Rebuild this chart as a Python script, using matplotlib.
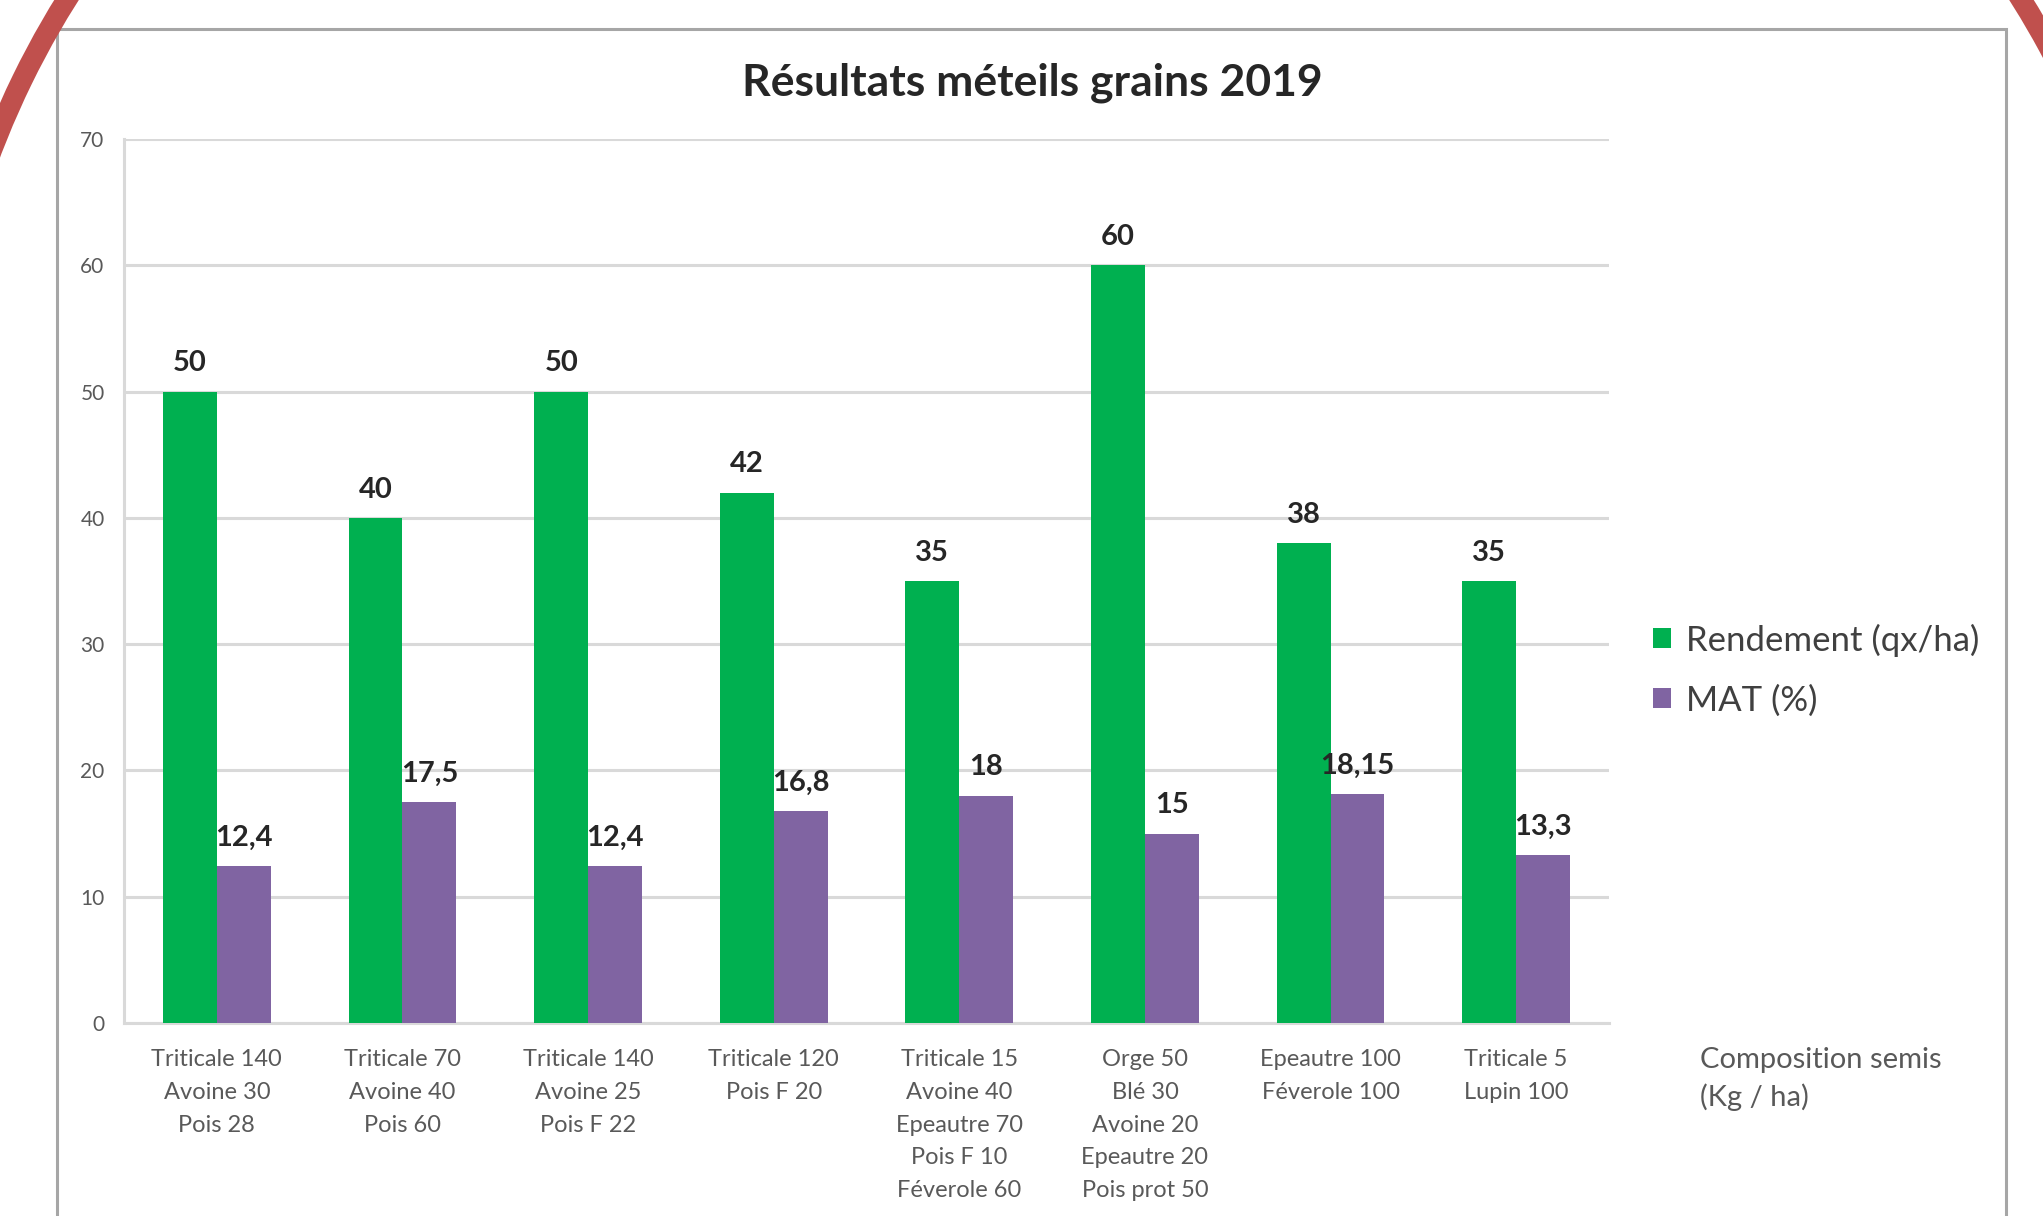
import matplotlib
matplotlib.use('Agg')
import matplotlib.pyplot as plt
from matplotlib.patches import Rectangle, Arc
import numpy as np

# Data
categories = [
    "Triticale 140\nAvoine 30\nPois 28",
    "Triticale 70\nAvoine 40\nPois 60",
    "Triticale 140\nAvoine 25\nPois F 22",
    "Triticale 120\nPois F 20",
    "Triticale 15\nAvoine 40\nEpeautre 70\nPois F 10\nFéverole 60",
    "Orge 50\nBlé 30\nAvoine 20\nEpeautre 20\nPois prot 50",
    "Epeautre 100\nFéverole 100",
    "Triticale 5\nLupin 100",
]
rendement = [50, 40, 50, 42, 35, 60, 38, 35]
mat = [12.4, 17.5, 12.4, 16.8, 18, 15, 18.15, 13.3]
rendement_labels = ["50", "40", "50", "42", "35", "60", "38", "35"]
mat_labels = ["12,4", "17,5", "12,4", "16,8", "18", "15", "18,15", "13,3"]

GREEN = '#00B050'
PURPLE = '#8064A2'
GRID = '#d9d9d9'
TXT = '#595959'

plt.rcParams['font.family'] = ['Lato', 'DejaVu Sans']

W, H = 2043, 1216
fig = plt.figure(figsize=(W / 100, H / 100), dpi=100)

# Background decoration: chart frame and red corner arcs (pixel coords)
deco = fig.add_axes([0, 0, 1, 1], zorder=-5)
deco.set_xlim(0, W)
deco.set_ylim(H, 0)
deco.axis('off')
deco.add_patch(Rectangle((57, 29), 2006 - 57, 1300, fill=False,
                         edgecolor='#a6a6a6', lw=2.2))
deco.add_patch(Arc((806, 462), 1744, 1744, theta1=190, theta2=222,
                   edgecolor='#c0504d', lw=15))
deco.add_patch(Arc((1282, 462), 1744, 1744, theta1=318, theta2=345,
                   edgecolor='#c0504d', lw=15))

ax = fig.add_axes([124 / W, 1 - 1023 / H, (1609 - 124) / W, (1023 - 139) / H])
x = np.arange(len(categories))
bw = 0.29
b1 = ax.bar(x - bw / 2, rendement, bw, color=GREEN, label='Rendement (qx/ha)',
            zorder=3)
b2 = ax.bar(x + bw / 2, mat, bw, color=PURPLE, label='MAT (%)', zorder=3)

for bars, labs in ((b1, rendement_labels), (b2, mat_labels)):
    for rect, lab in zip(bars, labs):
        ax.annotate(lab, (rect.get_x() + rect.get_width() / 2, rect.get_height()),
                    xytext=(0, 11), textcoords='offset points', ha='center',
                    va='bottom', fontsize=21, fontweight='bold', color='#262626')

ax.set_xlim(-0.5, len(categories) - 0.5)
ax.set_ylim(0, 70)
ax.set_yticks(range(0, 71, 10))
ax.yaxis.grid(True, color=GRID, lw=2.2, zorder=0)
ax.set_axisbelow(True)
for s in ('top', 'right'):
    ax.spines[s].set_visible(False)
for s in ('left', 'bottom'):
    ax.spines[s].set_color(GRID)
    ax.spines[s].set_linewidth(2.2)

# category labels (drawn as text so the line spacing can be set)
ax.set_xticks(x)
ax.set_xticklabels([])
for xi, cat in zip(x, categories):
    ax.annotate(cat, (xi, 0), xycoords=('data', 'axes fraction'),
                xytext=(0, -19), textcoords='offset points', ha='center',
                va='top', fontsize=17, color=TXT, linespacing=1.68)
ax.tick_params(axis='x', length=0)
ax.tick_params(axis='y', length=0, pad=14, labelsize=15, labelcolor=TXT)

fig.text(1032 / W, 1 - 83 / H, "Résultats méteils grains 2019", ha='center',
         va='center', fontsize=32, fontweight='bold', color='#262626')

ax.legend(loc='center left', bbox_to_anchor=(1636 / W, 1 - 670 / H),
          bbox_transform=fig.transFigure, frameon=False, fontsize=25,
          labelcolor='#404040', handlelength=0.5, handleheight=0.5,
          handletextpad=0.45, labelspacing=0.8, borderpad=0)

fig.text(1700 / W, 1 - 1047 / H, "Composition semis\n(Kg / ha)", ha='left',
         va='top', fontsize=21, color=TXT, linespacing=1.45)

fig.savefig('out.png', dpi=100)
